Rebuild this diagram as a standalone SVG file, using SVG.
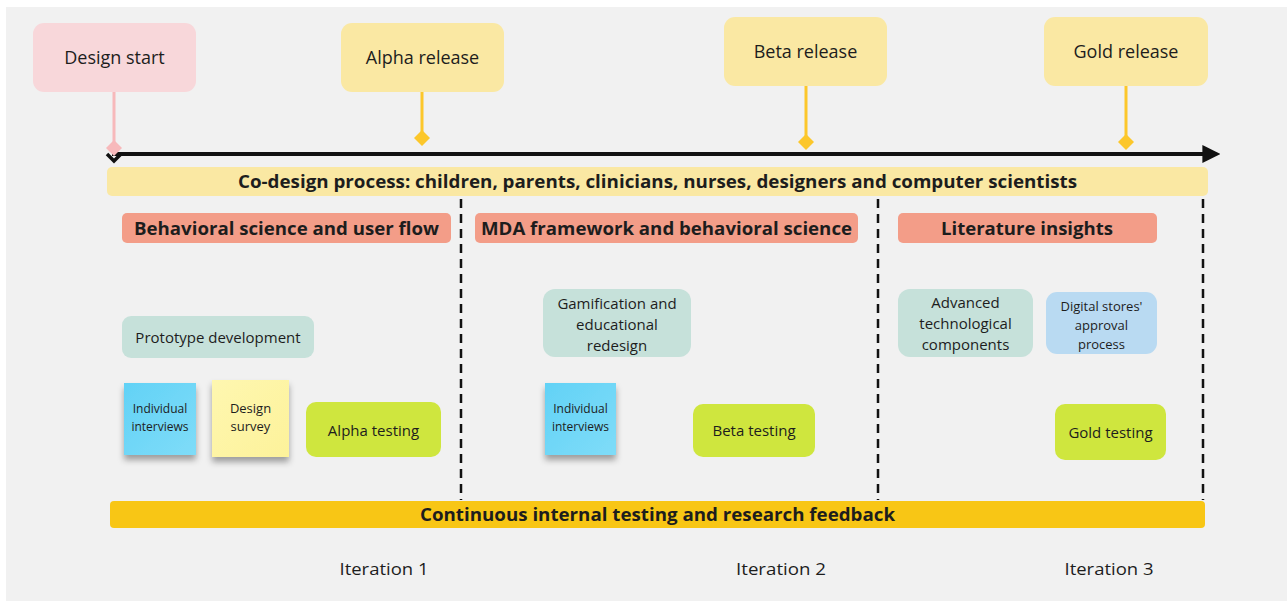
<svg xmlns="http://www.w3.org/2000/svg" width="1287" height="601" viewBox="0 0 1287 601">
  <defs>
    <style>
      .t { font-family: "Open Sans", "Liberation Sans", sans-serif; fill: #1d1d1d; text-anchor: middle; }
      .b { font-weight: 700; }
      .milestone-pink { fill: #f8d7da; }
      .milestone-yellow { fill: #fae8a3; }
      .head { fill: #f39d88; }
      .teal { fill: #c6e1da; }
      .lime { fill: #cfe63e; }
      .sky { fill: #b9daf2; }
      .divider { stroke: #111; stroke-width: 2.5; stroke-dasharray: 9 6; fill: none; }
    </style>
    <filter id="stickyShadow" x="-20%" y="-20%" width="140%" height="150%">
      <feDropShadow dx="0" dy="5" stdDeviation="3" flood-color="#000" flood-opacity="0.35"/>
    </filter>
    <linearGradient id="blueSticky" x1="0" y1="0" x2="1" y2="1">
      <stop offset="0" stop-color="#62d2f6"/>
      <stop offset="1" stop-color="#7fdcf8"/>
    </linearGradient>
    <linearGradient id="yellowSticky" x1="0" y1="0" x2="1" y2="1">
      <stop offset="0" stop-color="#fef7b0"/>
      <stop offset="1" stop-color="#fdf29a"/>
    </linearGradient>
    <marker id="arrowHead" viewBox="0 0 10 10" refX="2" refY="5" markerWidth="4.5" markerHeight="4.5" markerUnits="strokeWidth" orient="auto">
      <path d="M0,0 L10,5 L0,10 Z" fill="#111"/>
    </marker>
  </defs>

  <!-- canvas -->
  <rect x="0" y="0" width="1287" height="601" fill="#ffffff"/>
  <rect x="6" y="7" width="1281" height="594" fill="#f1f1f1"/>

  <!-- connectors: timeline axis and milestone stems -->
  <g id="connectors">
    <line x1="112" y1="154" x2="1206" y2="154" stroke="#111" stroke-width="4" marker-end="url(#arrowHead)"/>
    <path d="M107,154 L114,161 L121,154" fill="none" stroke="#111" stroke-width="3.5"/>
    <line x1="114" y1="92" x2="114" y2="144" stroke="#f7b9bb" stroke-width="3"/>
    <path d="M114,140 L122,148 L114,156 L106,148 Z" fill="#f7b9bb"/>
    <line x1="422" y1="92" x2="422" y2="134" stroke="#fcc72b" stroke-width="3"/>
    <path d="M422,130 L430,138 L422,146 L414,138 Z" fill="#fcc72b"/>
    <line x1="806" y1="86" x2="806" y2="138" stroke="#fcc72b" stroke-width="3"/>
    <path d="M806,134 L814,142 L806,150 L798,142 Z" fill="#fcc72b"/>
    <line x1="1126" y1="86" x2="1126" y2="138" stroke="#fcc72b" stroke-width="3"/>
    <path d="M1126,134 L1134,142 L1126,150 L1118,142 Z" fill="#fcc72b"/>
    <line class="divider" x1="461" y1="199" x2="461" y2="500"/>
    <line class="divider" x1="878" y1="199" x2="878" y2="500"/>
    <line class="divider" x1="1203" y1="199" x2="1203" y2="500"/>
  </g>

  <!-- milestones -->
  <g id="design-start">
    <rect class="milestone-pink" x="33" y="23" width="163" height="69" rx="11"/>
    <text class="t" x="114.5" y="64" font-size="18">Design start</text>
  </g>
  <g id="alpha-release">
    <rect class="milestone-yellow" x="341" y="23" width="163" height="69" rx="11"/>
    <text class="t" x="422.5" y="64" font-size="18">Alpha release</text>
  </g>
  <g id="beta-release">
    <rect class="milestone-yellow" x="724" y="17" width="163" height="69" rx="11"/>
    <text class="t" x="805.5" y="58" font-size="18">Beta release</text>
  </g>
  <g id="gold-release">
    <rect class="milestone-yellow" x="1044" y="17" width="164" height="69" rx="11"/>
    <text class="t" x="1126" y="58" font-size="18">Gold release</text>
  </g>

  <!-- process bars -->
  <g id="co-design">
    <rect class="milestone-yellow" x="107" y="167" width="1101" height="29" rx="5"/>
    <text class="t b" x="657.5" y="188" font-size="17" textLength="839" lengthAdjust="spacingAndGlyphs">Co-design process: children, parents, clinicians, nurses, designers and computer scientists</text>
  </g>
  <g id="continuous-testing">
    <rect x="110" y="501" width="1095" height="27" rx="4" fill="#f8c615"/>
    <text class="t b" x="657.5" y="521" font-size="17" textLength="475" lengthAdjust="spacingAndGlyphs">Continuous internal testing and research feedback</text>
  </g>

  <!-- iteration headers -->
  <g id="header-1">
    <rect class="head" x="122" y="213" width="329" height="30" rx="5"/>
    <text class="t b" x="286.5" y="234.5" font-size="18" textLength="305" lengthAdjust="spacingAndGlyphs">Behavioral science and user flow</text>
  </g>
  <g id="header-2">
    <rect class="head" x="475" y="213" width="383" height="30" rx="5"/>
    <text class="t b" x="666.5" y="234.5" font-size="18" textLength="371" lengthAdjust="spacingAndGlyphs">MDA framework and behavioral science</text>
  </g>
  <g id="header-3">
    <rect class="head" x="898" y="213" width="259" height="30" rx="5"/>
    <text class="t b" x="1027" y="234.5" font-size="18" textLength="172" lengthAdjust="spacingAndGlyphs">Literature insights</text>
  </g>

  <!-- iteration 1 -->
  <g id="prototype-development">
    <rect class="teal" x="122" y="316" width="192" height="42" rx="9"/>
    <text class="t" x="218" y="342.5" font-size="15">Prototype development</text>
  </g>
  <g id="interviews-1">
    <rect x="124" y="383" width="72" height="72" fill="url(#blueSticky)" filter="url(#stickyShadow)"/>
    <text class="t" x="160" y="413" font-size="12">Individual</text>
    <text class="t" x="160" y="431" font-size="12">interviews</text>
  </g>
  <g id="design-survey">
    <rect x="212" y="380" width="77" height="77" fill="url(#yellowSticky)" filter="url(#stickyShadow)"/>
    <text class="t" x="250.5" y="413" font-size="13">Design</text>
    <text class="t" x="250.5" y="431" font-size="13">survey</text>
  </g>
  <g id="alpha-testing">
    <rect class="lime" x="306" y="402" width="135" height="55" rx="10"/>
    <text class="t" x="373.5" y="435.5" font-size="15">Alpha testing</text>
  </g>

  <!-- iteration 2 -->
  <g id="gamification">
    <rect class="teal" x="543" y="289" width="148" height="68" rx="12"/>
    <text class="t" x="617" y="309" font-size="15">Gamification and</text>
    <text class="t" x="617" y="330" font-size="15">educational</text>
    <text class="t" x="617" y="351" font-size="15">redesign</text>
  </g>
  <g id="interviews-2">
    <rect x="545" y="383" width="71" height="72" fill="url(#blueSticky)" filter="url(#stickyShadow)"/>
    <text class="t" x="580.5" y="413" font-size="12">Individual</text>
    <text class="t" x="580.5" y="431" font-size="12">interviews</text>
  </g>
  <g id="beta-testing">
    <rect class="lime" x="693" y="404" width="122" height="53" rx="10"/>
    <text class="t" x="754" y="436" font-size="15">Beta testing</text>
  </g>

  <!-- iteration 3 -->
  <g id="advanced-components">
    <rect class="teal" x="898" y="289" width="135" height="68" rx="12"/>
    <text class="t" x="965.5" y="308" font-size="15">Advanced</text>
    <text class="t" x="965.5" y="329" font-size="15">technological</text>
    <text class="t" x="965.5" y="350" font-size="15">components</text>
  </g>
  <g id="store-approval">
    <rect class="sky" x="1046" y="292" width="111" height="62" rx="11"/>
    <text class="t" x="1101.5" y="311" font-size="13">Digital stores'</text>
    <text class="t" x="1101.5" y="330" font-size="13">approval</text>
    <text class="t" x="1101.5" y="349" font-size="13">process</text>
  </g>
  <g id="gold-testing">
    <rect class="lime" x="1055" y="404" width="111" height="56" rx="10"/>
    <text class="t" x="1110.5" y="438" font-size="15">Gold testing</text>
  </g>

  <!-- iteration labels -->
  <g id="iteration-labels">
    <text class="t" x="384" y="575" font-size="17" textLength="89" lengthAdjust="spacingAndGlyphs">Iteration 1</text>
    <text class="t" x="781" y="575" font-size="17" textLength="90" lengthAdjust="spacingAndGlyphs">Iteration 2</text>
    <text class="t" x="1109" y="575" font-size="17" textLength="89" lengthAdjust="spacingAndGlyphs">Iteration 3</text>
  </g>
</svg>
